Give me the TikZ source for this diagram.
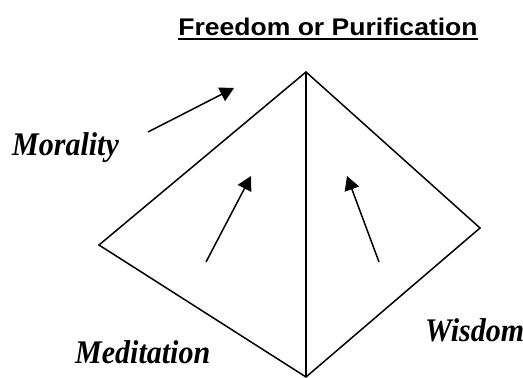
\documentclass[tikz,border=0pt]{standalone}
\usepackage{fontspec}
\setmainfont{Liberation Serif}
\newfontfamily\titlefont{Liberation Sans}
\usetikzlibrary{arrows.meta}
\begin{document}
\begin{tikzpicture}[x=1pt,y=-1pt,
  edge/.style={line width=1.5pt,line join=miter},
  arr/.style={line width=1.5pt,-{Triangle[length=14pt,width=15pt]}},
  lbl/.style={inner sep=0pt,anchor=base west,font=\fontsize{30}{36}\selectfont\bfseries\itshape},
  ttl/.style={inner sep=0pt,anchor=base,font=\fontsize{22.3}{26}\selectfont\titlefont\bfseries}]
\useasboundingbox (0,0) rectangle (523,378);
% title
\node[ttl] (title) at (328,35) {\scalebox{1.19}[1.08]{Freedom or Purification}};
\draw[line width=2.5pt] ([yshift=-3.8pt]title.base west) -- ([yshift=-3.8pt]title.base east);
% pyramid
\coordinate (top) at (306,72);
\coordinate (left) at (99,245);
\coordinate (right) at (480,228);
\coordinate (bottom) at (306,377);
\draw[edge] (top) -- (left) -- (bottom) -- (right) -- cycle;
\draw[edge] (top) -- (bottom);
% arrows
\coordinate (m1) at (148,132); \coordinate (m2) at (234,88);
\coordinate (d1) at (206,262); \coordinate (d2) at (251,176);
\coordinate (w1) at (379,262); \coordinate (w2) at (347,176);
\draw[arr] (m1) -- (m2);
\draw[arr] (d1) -- (d2);
\draw[arr] (w1) -- (w2);
% labels
\node[lbl] (morality) at (12,155) {\scalebox{1}[1.1]{Morality}};
\node[lbl] (meditation) at (75,363) {\scalebox{1}[1.1]{Meditation}};
\node[lbl] (wisdom) at (425,341) {\scalebox{1}[1.1]{Wisdom}};
\end{tikzpicture}
\end{document}
